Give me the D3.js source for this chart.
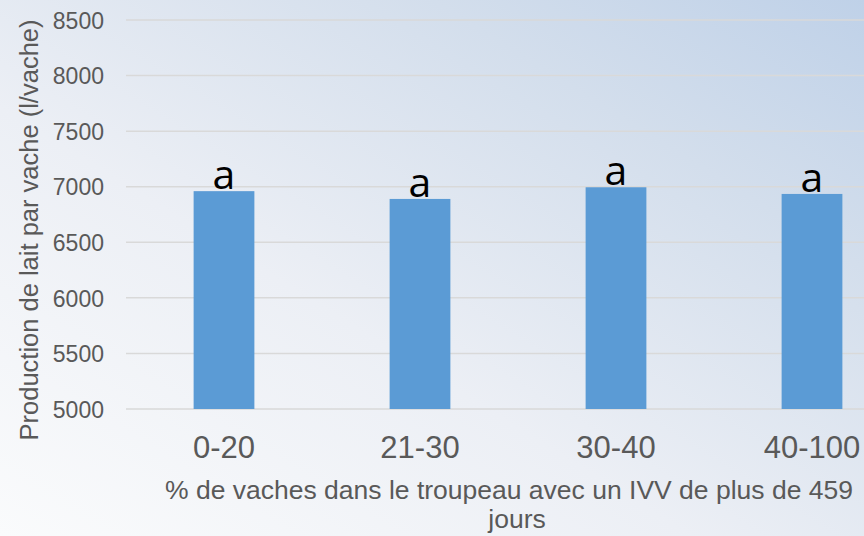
<!DOCTYPE html>
<html><head><meta charset="utf-8">
<script src="https://cdn.jsdelivr.net/npm/d3@7"></script>
<style>html,body{margin:0;padding:0;overflow:hidden;}</style>
</head><body>
<svg id="chart" width="864" height="536"></svg>
<script>
const categories = ["0-20", "21-30", "30-40", "40-100"];
const values = [6960, 6890, 6995, 6935];
const letters = ["a", "a", "a", "a"];
const yTicks = [5000, 5500, 6000, 6500, 7000, 7500, 8000, 8500];
const yTitle = "Production de lait par vache (l/vache)";
const xTitle = ["% de vaches dans le troupeau avec un IVV de plus de 459", "jours"];

const svg = d3.select("#chart");
const W = 864, H = 536;
const FONT = "'Liberation Sans', Arial, sans-serif";
const defs = svg.append("defs");
const g1 = defs.append("linearGradient").attr("id","bg").attr("x1","0").attr("y1","1").attr("x2","1").attr("y2","0");
g1.append("stop").attr("offset","0").attr("stop-color","#fafbfc");
g1.append("stop").attr("offset","0.4").attr("stop-color","#eceff5");
g1.append("stop").attr("offset","0.75").attr("stop-color","#d3deec");
g1.append("stop").attr("offset","1").attr("stop-color","#bfd1e8");
svg.append("rect").attr("width",W).attr("height",H).attr("fill","url(#bg)");

const x = d3.scaleBand().domain(categories).range([126, 910]).paddingInner(0.69).paddingOuter(0.345);
const y = d3.scaleLinear().domain([5000, 8500]).range([409, 20]);

// gridlines
svg.append("g").selectAll("line").data(yTicks).join("line")
  .attr("x1",126).attr("x2",W).attr("y1",d=>y(d)).attr("y2",d=>y(d))
  .attr("stroke","#d9d9d9").attr("stroke-width",1.5);

// y axis labels
const yAxis = d3.axisLeft(y).tickValues(yTicks).tickSize(0).tickPadding(0).tickFormat(d3.format("d"));
const ya = svg.append("g").attr("transform","translate(104,0)").call(yAxis);
ya.attr("font-family",FONT).attr("font-size",23);
ya.select(".domain").remove();
ya.selectAll("text").attr("fill","#595959").attr("dy","0.36em");

// bars
svg.append("g").selectAll("rect").data(values).join("rect")
  .attr("x",(d,i)=>x(categories[i])).attr("width",x.bandwidth())
  .attr("y",d=>y(d)).attr("height",d=>y(5000)-y(d))
  .attr("fill","#5b9bd5");

// letters
svg.append("g").selectAll("text").data(values).join("text")
  .attr("x",(d,i)=>x(categories[i])+x.bandwidth()/2).attr("y",d=>y(d)-2)
  .attr("text-anchor","middle").attr("font-family","'Open Sans', sans-serif").attr("font-size",41)
  .attr("fill","#000").text((d,i)=>letters[i]);

// x axis labels
const xAxis = d3.axisBottom(x).tickSize(0).tickPadding(0);
const xa = svg.append("g").call(xAxis);
xa.attr("font-family",FONT).attr("font-size",31);
xa.select(".domain").remove();
xa.selectAll("text").attr("fill","#595959").attr("y",458).attr("dy",null);

// x title
svg.append("g").selectAll("text").data(xTitle).join("text")
  .attr("x",(d,i)=>i?517:509).attr("y",(d,i)=>i?528:499).attr("text-anchor","middle")
  .attr("font-family",FONT).attr("font-size",26.5).attr("fill","#595959").text(d=>d);

// y title
svg.append("text").attr("transform","translate(38,230) rotate(-90)").attr("text-anchor","middle")
  .attr("font-family",FONT).attr("font-size",25.5).attr("fill","#595959")
  .text(yTitle);
</script>
</body></html>
